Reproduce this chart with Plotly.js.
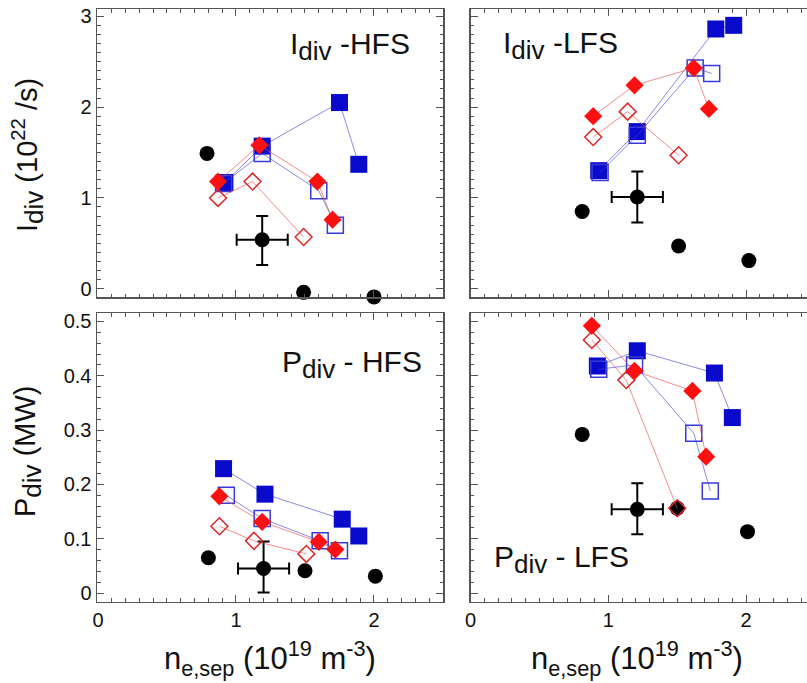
<!DOCTYPE html>
<html>
<head>
<meta charset="utf-8">
<script src="https://cdn.plot.ly/plotly-3.0.1.min.js"></script>
<style>
html, body { margin:0; padding:0; overflow:hidden; background:#fff; }
#chart { width:830px; height:683px; }
</style>
</head>
<body>
<div id="chart"></div>
<script>
// ---------- Data (n_e,sep in 1e19 m^-3) ----------
// Panel: I_div - HFS (1e22 /s)
var idivHFS_blackX = [0.79, 1.19, 1.49, 2.00];
var idivHFS_blackY = [1.49, 0.54, -0.04, -0.09];
var idivHFS_errX   = [NaN, 0.185, NaN, NaN];
var idivHFS_errYp  = [NaN, 0.26, NaN, NaN];
var idivHFS_errYm  = [NaN, 0.28, NaN, NaN];
var idivHFS_bsX = [0.92, 1.19, 1.75, 1.89];
var idivHFS_bsY = [1.17, 1.57, 2.05, 1.37];
var idivHFS_boX = [0.91, 1.19, 1.60, 1.72];
var idivHFS_boY = [1.16, 1.49, 1.08, 0.70];
var idivHFS_rfX = [0.87, 1.17, 1.59, 1.70];
var idivHFS_rfY = [1.18, 1.58, 1.18, 0.76];
var idivHFS_roX = [0.87, 1.12, 1.49];
var idivHFS_roY = [1.00, 1.18, 0.57];

// Panel: I_div - LFS
var idivLFS_blackX = [0.81, 1.21, 1.51, 2.02];
var idivLFS_blackY = [0.85, 1.01, 0.47, 0.31];
var idivLFS_errX   = [NaN, 0.186, NaN, NaN];
var idivLFS_errYp  = [NaN, 0.28, NaN, NaN];
var idivLFS_errYm  = [NaN, 0.28, NaN, NaN];
var idivLFS_bsX = [0.93, 1.21, 1.78, 1.91];
var idivLFS_bsY = [1.30, 1.73, 2.86, 2.90];
var idivLFS_boX = [0.94, 1.21, 1.63, 1.75];
var idivLFS_boY = [1.28, 1.69, 2.43, 2.37];
var idivLFS_rfX = [0.89, 1.19, 1.62, 1.73];
var idivLFS_rfY = [1.90, 2.24, 2.43, 1.98];
var idivLFS_roX = [0.89, 1.14, 1.51];
var idivLFS_roY = [1.67, 1.95, 1.47];

// Panel: P_div - HFS (MW)
var pdivHFS_blackX = [0.80, 1.20, 1.50, 2.01];
var pdivHFS_blackY = [0.065, 0.045, 0.041, 0.031];
var pdivHFS_errX   = [NaN, 0.185, NaN, NaN];
var pdivHFS_errYp  = [NaN, 0.050, NaN, NaN];
var pdivHFS_errYm  = [NaN, 0.044, NaN, NaN];
var pdivHFS_bsX = [0.91, 1.21, 1.77, 1.89];
var pdivHFS_bsY = [0.229, 0.182, 0.136, 0.105];
var pdivHFS_boX = [0.93, 1.19, 1.61, 1.75];
var pdivHFS_boY = [0.180, 0.137, 0.096, 0.078];
var pdivHFS_rfX = [0.88, 1.19, 1.60, 1.72];
var pdivHFS_rfY = [0.178, 0.131, 0.094, 0.080];
var pdivHFS_roX = [0.88, 1.13, 1.51];
var pdivHFS_roY = [0.123, 0.096, 0.072];

// Panel: P_div - LFS
var pdivLFS_blackX = [0.81, 1.21, 1.50, 2.01];
var pdivLFS_blackY = [0.292, 0.154, 0.156, 0.113];
var pdivLFS_errX   = [NaN, 0.186, NaN, NaN];
var pdivLFS_errYp  = [NaN, 0.048, NaN, NaN];
var pdivLFS_errYm  = [NaN, 0.046, NaN, NaN];
var pdivLFS_bsX = [0.92, 1.21, 1.77, 1.90];
var pdivLFS_bsY = [0.418, 0.446, 0.405, 0.323];
var pdivLFS_boX = [0.93, 1.19, 1.62, 1.74];
var pdivLFS_boY = [0.412, 0.420, 0.294, 0.188];
var pdivLFS_rfX = [0.88, 1.19, 1.61, 1.71];
var pdivLFS_rfY = [0.492, 0.409, 0.372, 0.251];
var pdivLFS_roX = [0.88, 1.13, 1.50];
var pdivLFS_roY = [0.466, 0.392, 0.156];

var xTickVals = [0, 1, 2];
var xTickText = ['0', '1', '2'];
var yTopTickVals = [0, 1, 2, 3];
var yBotTickVals = [0, 0.1, 0.2, 0.3, 0.4, 0.5];
var yBotTickText = ['0', '0.1', '0.2', '0.3', '0.4', '0.5'];

// ---------- Styles ----------
var BLUE = '#0a0acc', BLUE_LINE = 'rgba(60,60,220,0.6)', BLUE_OPEN = '#3a3ad8';
var RED = '#ff1010', RED_LINE = 'rgba(240,80,80,0.65)', RED_OPEN = '#e02828';

function panel(xa, ya, bx, by, ex, eyp, eym, bsX, bsY, boX, boY, rfX, rfY, roX, roY) {
  return [
    {x: bx, y: by, xaxis: xa, yaxis: ya, type: 'scatter', mode: 'markers',
     marker: {symbol: 'circle', size: 15, color: '#000'},
     error_x: {type: 'data', array: ex, color: '#000', thickness: 2, width: 6},
     error_y: {type: 'data', symmetric: false, array: eyp, arrayminus: eym, color: '#000', thickness: 2, width: 6},
     cliponaxis: false, showlegend: false},
    {x: bsX, y: bsY, xaxis: xa, yaxis: ya, type: 'scatter', mode: 'lines+markers',
     line: {color: BLUE_LINE, width: 1},
     marker: {symbol: 'square', size: 17, color: BLUE, line: {width: 0}},
     cliponaxis: false, showlegend: false},
    {x: boX, y: boY, xaxis: xa, yaxis: ya, type: 'scatter', mode: 'lines+markers',
     line: {color: BLUE_LINE, width: 1},
     marker: {symbol: 'square-open', size: 16, color: BLUE_OPEN, line: {width: 1.5}},
     cliponaxis: false, showlegend: false},
    {x: roX, y: roY, xaxis: xa, yaxis: ya, type: 'scatter', mode: 'lines+markers',
     line: {color: RED_LINE, width: 1},
     marker: {symbol: 'diamond-open', size: 13, color: RED_OPEN, line: {width: 1.5}},
     cliponaxis: false, showlegend: false},
    {x: rfX, y: rfY, xaxis: xa, yaxis: ya, type: 'scatter', mode: 'lines+markers',
     line: {color: RED_LINE, width: 1},
     marker: {symbol: 'diamond', size: 14, color: RED, line: {width: 0}},
     cliponaxis: false, showlegend: false}
  ];
}

var data = [].concat(
  panel('x', 'y', idivHFS_blackX, idivHFS_blackY, idivHFS_errX, idivHFS_errYp, idivHFS_errYm,
        idivHFS_bsX, idivHFS_bsY, idivHFS_boX, idivHFS_boY, idivHFS_rfX, idivHFS_rfY, idivHFS_roX, idivHFS_roY),
  panel('x2', 'y2', idivLFS_blackX, idivLFS_blackY, idivLFS_errX, idivLFS_errYp, idivLFS_errYm,
        idivLFS_bsX, idivLFS_bsY, idivLFS_boX, idivLFS_boY, idivLFS_rfX, idivLFS_rfY, idivLFS_roX, idivLFS_roY),
  panel('x3', 'y3', pdivHFS_blackX, pdivHFS_blackY, pdivHFS_errX, pdivHFS_errYp, pdivHFS_errYm,
        pdivHFS_bsX, pdivHFS_bsY, pdivHFS_boX, pdivHFS_boY, pdivHFS_rfX, pdivHFS_rfY, pdivHFS_roX, pdivHFS_roY),
  panel('x4', 'y4', pdivLFS_blackX, pdivLFS_blackY, pdivLFS_errX, pdivLFS_errYp, pdivLFS_errYm,
        pdivLFS_bsX, pdivLFS_bsY, pdivLFS_boX, pdivLFS_boY, pdivLFS_rfX, pdivLFS_rfY, pdivLFS_roX, pdivLFS_roY)
);

var FONT = 'Liberation Sans, Arial, Helvetica, sans-serif';
var W = 830, H = 683;
function px(x) { return x / W; }
function py(y) { return 1 - y / H; }

function xAxis(domain, anchor, showLabels, range) {
  return {domain: domain, anchor: anchor, range: range, showline: true, linecolor: '#555', linewidth: 1.5,
    mirror: 'allticks', ticks: 'inside', ticklen: 7, tickwidth: 1, tickcolor: '#555',
    tickmode: 'array', tickvals: xTickVals, ticktext: xTickText, showticklabels: showLabels,
    tickfont: {family: FONT, size: 20, color: '#111'},
    minor: {tickmode: 'linear', tick0: 0, dtick: 0.1, ticks: 'inside', ticklen: 3.5, tickcolor: '#555', tickwidth: 1},
    showgrid: false, zeroline: false, fixedrange: true};
}
function yAxis(domain, anchor, showLabels, range, tv, tt, minorD) {
  return {domain: domain, anchor: anchor, range: range, showline: true, linecolor: '#555', linewidth: 1.5,
    mirror: 'allticks', ticks: 'inside', ticklen: 7, tickwidth: 1, tickcolor: '#555',
    tickmode: 'array', tickvals: tv, ticktext: tt, showticklabels: showLabels,
    tickfont: {family: FONT, size: 20, color: '#111'},
    minor: {tickmode: 'linear', tick0: 0, dtick: minorD, ticks: 'inside', ticklen: 3.5, tickcolor: '#555', tickwidth: 1},
    showgrid: false, zeroline: false, fixedrange: true};
}

var xdL = [px(97), px(443)], xdR = [px(470.6), px(815)];
var ydT = [py(297), py(9)], ydB = [py(601.7), py(313.3)];
var yTopRange = [-0.091, 3.08], yBotRange = [-0.016, 0.515];
var yTopText = yTopTickVals.map(String);

function ann(text, x, y, size, angle) {
  return {text: text, xref: 'paper', yref: 'paper', x: px(x), y: py(y), xanchor: 'center', yanchor: 'middle',
    showarrow: false, textangle: angle || 0, font: {family: FONT, size: size, color: '#111'}};
}
function bigSub(s, size) { return '<sub><span style="font-size:' + size + 'px">' + s + '</span></sub>'; }

var layout = {
  width: W, height: H, margin: {l: 0, r: 0, t: 0, b: 0},
  paper_bgcolor: '#fff', plot_bgcolor: '#fff', showlegend: false,
  xaxis: xAxis(xdL, 'y', false, [-0.007, 2.5]),
  yaxis: yAxis(ydT, 'x', true, yTopRange, yTopTickVals, yTopText, 0.1),
  xaxis2: xAxis(xdR, 'y2', false, [0, 2.5]),
  yaxis2: yAxis(ydT, 'x2', false, yTopRange, yTopTickVals, yTopText, 0.1),
  xaxis3: xAxis(xdL, 'y3', true, [-0.007, 2.5]),
  yaxis3: yAxis(ydB, 'x3', true, yBotRange, yBotTickVals, yBotTickText, 0.02),
  xaxis4: xAxis(xdR, 'y4', true, [0, 2.5]),
  yaxis4: yAxis(ydB, 'x4', false, yBotRange, yBotTickVals, yBotTickText, 0.02),
  annotations: [
    ann('I' + bigSub('div', 26) + ' (10<sup>22</sup> /s)', 28, 155, 29, -90),
    ann('P' + bigSub('div', 26) + ' (MW)', 28, 451, 29, -90),
    ann('n<sub>e,sep</sub> (10<sup>19</sup> m<sup>-3</sup>)', 270, 658, 31),
    ann('n<sub>e,sep</sub> (10<sup>19</sup> m<sup>-3</sup>)', 637, 658, 31),
    ann('I' + bigSub('div', 26) + ' -HFS', 350, 47, 30),
    ann('I' + bigSub('div', 26) + ' -LFS', 560, 45, 30),
    ann('P' + bigSub('div', 26) + ' - HFS', 352, 364, 30),
    ann('P' + bigSub('div', 26) + ' - LFS', 561, 559, 30)
  ]
};

Plotly.newPlot('chart', data, layout, {staticPlot: true, displayModeBar: false});
</script>
</body>
</html>
